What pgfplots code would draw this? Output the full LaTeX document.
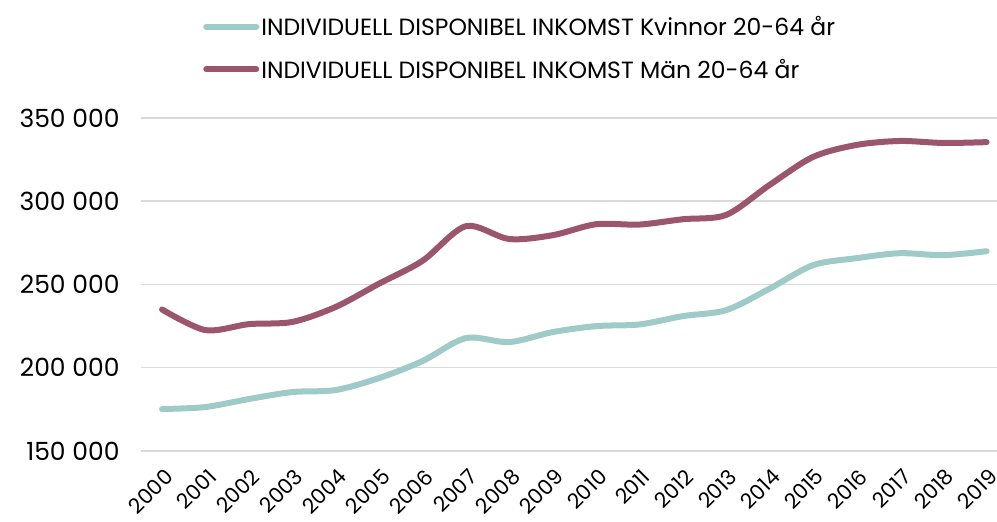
\documentclass[border=0pt]{standalone}
\usepackage{fontspec}
\setmainfont{Poppins}
\usepackage{pgfplots}
\pgfplotsset{compat=1.18}
\definecolor{kv}{RGB}{158,203,200}
\definecolor{man}{RGB}{155,85,108}
\definecolor{gridc}{RGB}{217,217,217}
\begin{document}
\begin{tikzpicture}
\useasboundingbox (-141pt,-71pt) rectangle (856pt,451pt);
\begin{axis}[
  scale only axis,
  width=856pt, height=333pt,
  xmin=-0.485, xmax=19.24,
  ymin=150000, ymax=350000,
  scaled y ticks=false,
  clip=false,
  axis line style={draw=none},
  major tick length=0pt,
  ytick={150000,200000,250000,300000,350000},
  yticklabels={150 000,200 000,250 000,300 000,350 000},
  xtick={0,...,19},
  xticklabels={2000,2001,2002,2003,2004,2005,2006,2007,2008,2009,2010,2011,2012,2013,2014,2015,2016,2017,2018,2019},
  ymajorgrids,
  grid style={gridc, line width=1.5pt},
  yticklabel style={font=\fontsize{25}{28}\selectfont, xshift=-18pt},
  xticklabel style={font=\fontsize{21}{24}\selectfont, inner sep=0pt, xshift=7pt, yshift=-22pt, rotate=45, anchor=east},
  legend style={draw=none, fill=none, at={(0.0725,1.312)}, anchor=north west,
     inner sep=0pt, font=\fontsize{23.5}{28}\selectfont, row sep=18pt,
     cells={anchor=west}},
  legend image code/.code={\draw[#1, line width=6pt, line cap=round] (0pt,0pt) -- (50pt,0pt);},
]
\addplot[kv, line width=6pt, smooth, line cap=round] coordinates {
(0,175200) (1,176400) (2,181200) (3,185400) (4,186600) (5,193800) (6,204000)
(7,217800) (8,215400) (9,221400) (10,225000) (11,226000) (12,231000) (13,234600)
(14,247500) (15,261600) (16,265800) (17,268800) (18,267600) (19,270000)};
\addlegendentry{INDIVIDUELL DISPONIBEL INKOMST Kvinnor 20-64 år}
\addplot[man, line width=6pt, smooth, line cap=round] coordinates {
(0,235000) (1,222600) (2,226200) (3,227500) (4,236500) (5,250500) (6,264200)
(7,285000) (8,277300) (9,279600) (10,286200) (11,286000) (12,289200) (13,291800)
(14,309800) (15,326600) (16,333800) (17,336200) (18,335000) (19,335500)};
\addlegendentry{INDIVIDUELL DISPONIBEL INKOMST Män 20-64 år}
\end{axis}
\end{tikzpicture}
\end{document}
